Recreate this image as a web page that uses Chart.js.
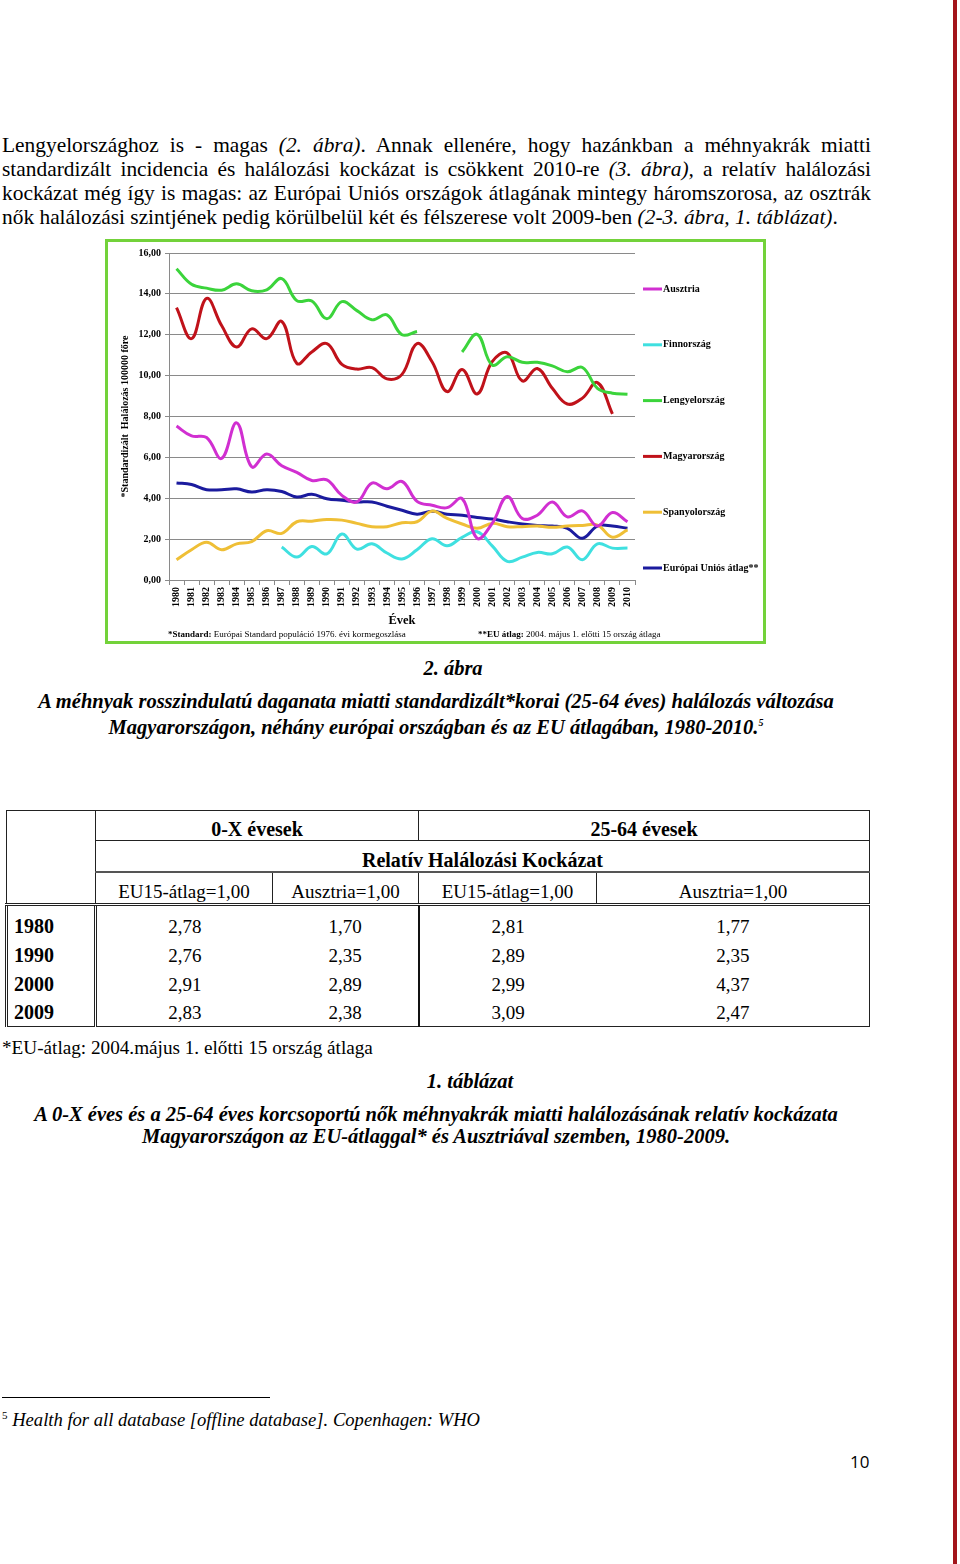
<!DOCTYPE html>
<html lang="hu">
<head>
<meta charset="utf-8">
<script src="https://cdn.jsdelivr.net/npm/chart.js@4.4.1/dist/chart.umd.min.js"></script>
<style>
    body { margin: 0; background: #fff; }
    .page { position: relative; width: 960px; height: 1564px; overflow: hidden; font-family: 'Liberation Serif', serif; color: #000; }
    .redbar { position: absolute; left: 953px; top: 0; width: 4px; height: 1564px; background: #a3141b; }
    .para { position: absolute; left: 2px; top: 133px; width: 869px; font-size: 21.4px; line-height: 24px; }
    .para div { text-align: justify; text-align-last: justify; white-space: nowrap; }
    .para div.last { text-align-last: left; }
    .chartbox { position: absolute; left: 105px; top: 239px; width: 655px; height: 399px; border: 3px solid #73d23a; }
    .chartbox canvas { position: absolute; left: 0; top: 1px; }
    .note { position: absolute; top: 387px; font-size: 9px; white-space: nowrap; }
    .cap { position: absolute; left: 0; text-align: center; font-weight: bold; font-style: italic; font-size: 20.5px; line-height: 22px; }
    table { position: absolute; left: 5px; top: 810px; border-collapse: collapse; font-size: 19px; table-layout: fixed; }
    td { padding: 0; text-align: center; vertical-align: top; line-height: 22px; }
    .hd td { font-weight: bold; font-size: 20px; }
    .dt td { line-height: 29px; }
    .dt.first td { padding-top: 6px; }
    .dt.end td { line-height: 27px; border-bottom: 1px solid #222; }
    .yr { font-weight: bold; font-size: 20px; text-align: left; padding-left: 6px; border-left: 3px double #222; border-right: 3px double #222; }
    .mid { border-right: 2px solid #111; }
    .rt { border-right: 1px solid #222; }
    .fnline { position: absolute; left: 2px; top: 1397px; width: 268px; height: 1px; background: #000; }
    .fn { position: absolute; left: 2px; top: 1409px; font-size: 18.6px; font-style: italic; }
    .pnum { position: absolute; left: 850px; top: 1450px; font-family: 'Open Sans', sans-serif; font-size: 17px; }
</style>
</head>
<body>
<div class="page">
    <div class="redbar"></div>

    <div class="para">
        <div>Lengyelországhoz is - magas <i>(2. ábra)</i>. Annak ellenére, hogy hazánkban a méhnyakrák miatti</div>
        <div>standardizált incidencia és halálozási kockázat is csökkent 2010-re <i>(3. ábra),</i> a relatív halálozási</div>
        <div>kockázat még így is magas: az Európai Uniós országok átlagának mintegy háromszorosa, az osztrák</div>
        <div class="last">nők halálozási szintjének pedig körülbelül két és félszerese volt 2009-ben <i>(2-3. ábra, 1. táblázat)</i>.</div>
    </div>

    <div class="chartbox">
        <canvas id="chart" width="655" height="398"></canvas>
        <div class="note" style="left:60px;"><b>*Standard:</b> Európai Standard populáció 1976. évi kormegoszlása</div>
        <div class="note" style="left:370px;"><b>**EU átlag:</b> 2004. május 1. előtti 15 ország átlaga</div>
    </div>

    <div class="cap" style="top:657px; width:906px;">2. ábra</div>
    <div class="cap" style="top:690px; width:872px;">A méhnyak rosszindulatú daganata miatti standardizált*korai (25-64 éves) halálozás változása<br>Magyarországon, néhány európai országban és az EU átlagában, 1980-2010.<sup style="font-size:10px;">5</sup></div>

    <table>
        <colgroup>
            <col style="width:89px"><col style="width:177px"><col style="width:146px"><col style="width:178px"><col style="width:273px">
        </colgroup>
        <tr class="hd" style="height:30px;">
            <td rowspan="3" style="border:1px solid #222; border-bottom:3px double #222;"></td>
            <td colspan="2" style="padding-top:7px; border-top:1px solid #222; border-bottom:1px solid #222; border-right:1px solid #222;">0-X évesek</td>
            <td colspan="2" style="padding-top:7px; border-top:1px solid #222; border-bottom:1px solid #222; border-right:1px solid #222;">25-64 évesek</td>
        </tr>
        <tr class="hd" style="height:31px;">
            <td colspan="4" style="padding-top:8px; border-bottom:2px solid #555; border-right:1px solid #222;">Relatív Halálozási Kockázat</td>
        </tr>
        <tr style="height:32px;">
            <td style="padding-top:8px; border-right:1px solid #222; border-bottom:3px double #222;">EU15-átlag=1,00</td>
            <td style="padding-top:8px; border-right:1px solid #222; border-bottom:3px double #222;">Ausztria=1,00</td>
            <td style="padding-top:8px; border-right:1px solid #222; border-bottom:3px double #222;">EU15-átlag=1,00</td>
            <td style="padding-top:8px; border-right:1px solid #222; border-bottom:3px double #222;">Ausztria=1,00</td>
        </tr>
        <tr class="dt first"><td class="yr">1980</td><td>2,78</td><td class="mid">1,70</td><td>2,81</td><td class="rt">1,77</td></tr>
        <tr class="dt"><td class="yr">1990</td><td>2,76</td><td class="mid">2,35</td><td>2,89</td><td class="rt">2,35</td></tr>
        <tr class="dt"><td class="yr">2000</td><td>2,91</td><td class="mid">2,89</td><td>2,99</td><td class="rt">4,37</td></tr>
        <tr class="dt end"><td class="yr">2009</td><td>2,83</td><td class="mid">2,38</td><td>3,09</td><td class="rt">2,47</td></tr>
    </table>

    <div style="position:absolute; left:2px; top:1037px; font-size:19.2px;">*EU-átlag: 2004.május 1. előtti 15 ország átlaga</div>
    <div class="cap" style="top:1070px; width:940px;">1. táblázat</div>
    <div class="cap" style="top:1103px; width:872px;">A 0-X éves és a 25-64 éves korcsoportú nők méhnyakrák miatti halálozásának relatív kockázata<br>Magyarországon az EU-átlaggal* és Ausztriával szemben, 1980-2009.</div>

    <div class="fnline"></div>
    <div class="fn"><sup style="font-size:11px; font-style:normal;">5</sup> Health for all database [offline database]. Copenhagen: WHO</div>
    <div class="pnum">10</div>
</div>

<script>
const years = ['1980', '1981', '1982', '1983', '1984', '1985', '1986', '1987', '1988', '1989', '1990',
    '1991', '1992', '1993', '1994', '1995', '1996', '1997', '1998', '1999', '2000',
    '2001', '2002', '2003', '2004', '2005', '2006', '2007', '2008', '2009', '2010'];

const ausztria = [7.53, 7.05, 6.97, 5.95, 7.69, 5.54, 6.16, 5.59, 5.27, 4.87, 4.90,
    4.14, 3.82, 4.74, 4.46, 4.82, 3.85, 3.66, 3.54, 3.98, 2.04,
    2.77, 4.09, 3.01, 3.17, 3.82, 3.09, 3.38, 2.64, 3.30, 2.85];
const finnorszag = [null, null, null, null, null, null, null, 1.61, 1.12, 1.64, 1.28,
    2.25, 1.51, 1.77, 1.32, 1.03, 1.48, 2.02, 1.67, 2.09, 2.36,
    1.67, 0.91, 1.12, 1.35, 1.28, 1.61, 0.99, 1.77, 1.56, 1.56];
const lengyelorszag = [15.23, 14.47, 14.28, 14.18, 14.49, 14.15, 14.20, 14.75, 13.67, 13.65, 12.78,
    13.62, 13.18, 12.73, 12.97, 12.00, 12.16, null, null, 11.16, 12.02,
    10.52, 10.92, 10.65, 10.65, 10.48, 10.19, 10.40, 9.38, 9.14, 9.09];
const magyarorszag = [13.33, 11.81, 13.78, 12.45, 11.40, 12.29, 11.81, 12.65, 10.60, 11.16, 11.57,
    10.55, 10.32, 10.39, 9.84, 10.06, 11.57, 10.68, 9.22, 10.30, 9.10,
    10.68, 11.11, 9.74, 10.35, 9.38, 8.61, 8.90, 9.66, 8.13, null];
const spanyolorszag = [0.99, 1.48, 1.85, 1.48, 1.77, 1.88, 2.41, 2.28, 2.85, 2.88, 2.96,
    2.93, 2.77, 2.61, 2.61, 2.80, 2.85, 3.37, 3.01, 2.74, 2.53,
    2.77, 2.61, 2.61, 2.64, 2.58, 2.64, 2.67, 2.69, 2.09, 2.45];
const euAtlag = [4.75, 4.67, 4.42, 4.42, 4.46, 4.30, 4.42, 4.33, 4.06, 4.19, 3.98,
    3.90, 3.82, 3.82, 3.61, 3.41, 3.22, 3.36, 3.22, 3.17, 3.06,
    2.98, 2.85, 2.74, 2.67, 2.64, 2.53, 2.04, 2.64, 2.64, 2.53];

const seriesNames = ['Ausztria', 'Finnország', 'Lengyelország', 'Magyarország', 'Spanyolország', 'Európai Uniós átlag**'];
const seriesColors = ['#d12fd1', '#3fe0e0', '#3bd43b', '#c0121a', '#efbf36', '#1b1b9e'];
const yTickLabels = ['0,00', '2,00', '4,00', '6,00', '8,00', '10,00', '12,00', '14,00', '16,00'];

const seriesData = [ausztria, finnorszag, lengyelorszag, magyarorszag, spanyolorszag, euAtlag];

const boldSerif = size => ({ family: "'Liberation Serif', serif", size: size, weight: 'bold' });

// legend on the right, evenly spaced like the original Excel chart
const sideLegend = {
    id: 'sideLegend',
    afterDraw(chart) {
        const ctx = chart.ctx;
        const area = chart.chartArea;
        ctx.save();
        ctx.font = "bold 10px 'Liberation Serif', serif";
        ctx.textBaseline = 'middle';
        seriesNames.forEach((name, i) => {
            const y = area.top + 36 + i * 55.8;
            ctx.strokeStyle = seriesColors[i];
            ctx.lineWidth = 3;
            ctx.beginPath();
            ctx.moveTo(area.right + 8, y);
            ctx.lineTo(area.right + 27, y);
            ctx.stroke();
            ctx.fillStyle = '#000';
            ctx.fillText(name, area.right + 28, y);
        });
        ctx.restore();
    }
};

new Chart(document.getElementById('chart'), {
    type: 'line',
    data: {
        labels: years,
        datasets: seriesNames.map((name, i) => ({
            label: name,
            data: seriesData[i],
            borderColor: seriesColors[i],
            backgroundColor: seriesColors[i],
            borderWidth: 3,
            pointRadius: 0,
            tension: 0.4,
            spanGaps: false
        }))
    },
    options: {
        responsive: false,
        animation: false,
        devicePixelRatio: 1,
        layout: { padding: { left: 0, right: 128, top: 7, bottom: 0 } },
        plugins: {
            legend: { display: false },
            tooltip: { enabled: false }
        },
        scales: {
            x: {
                offset: true,
                grid: { offset: true, drawOnChartArea: false, drawTicks: true, tickLength: 5, color: '#8a8a8a' },
                border: { color: '#8a8a8a' },
                ticks: { autoSkip: false, maxRotation: 90, minRotation: 90, padding: 2, color: '#000', font: boldSerif(10) },
                title: { display: true, text: 'Évek', color: '#000', font: boldSerif(12.5), padding: { top: 0, bottom: 13 } },
                afterFit: scale => { scale.height = 61; }
            },
            y: {
                min: 0,
                max: 16,
                ticks: {
                    stepSize: 2,
                    padding: 4,
                    color: '#000',
                    font: boldSerif(10),
                    callback: (v, i) => yTickLabels[i]
                },
                grid: { color: '#8a8a8a', tickLength: 4 },
                border: { color: '#8a8a8a' },
                title: { display: true, text: '*Standardizált  Halálozás 100000 főre', color: '#000', font: boldSerif(10), padding: { top: 11, bottom: 0 } },
                afterFit: scale => { scale.width = 61; }
            }
        }
    },
    plugins: [sideLegend]
});
</script>
</body>
</html>
